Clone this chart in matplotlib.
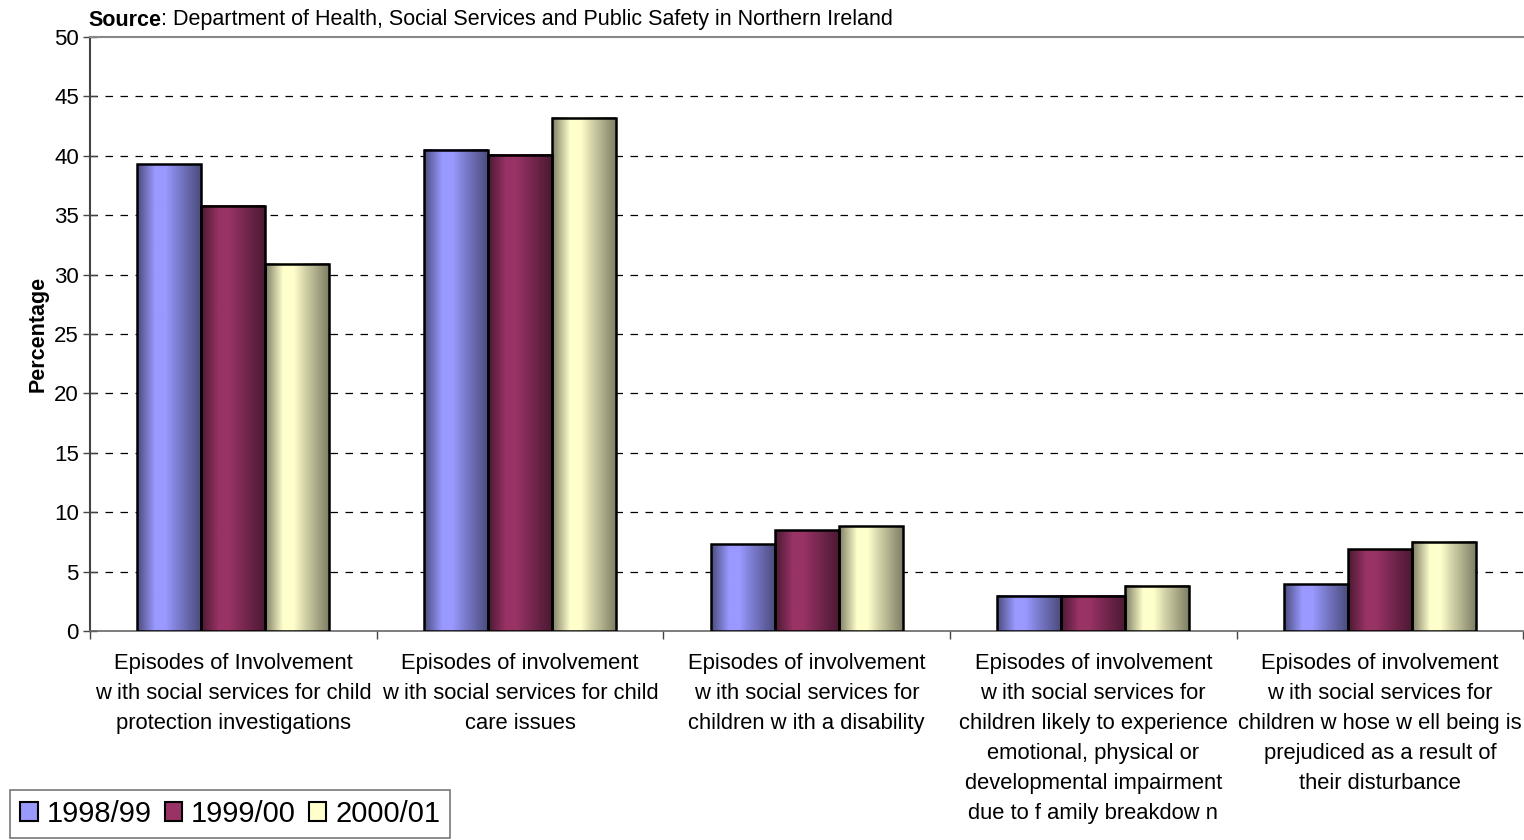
import numpy as np
import matplotlib
matplotlib.use("Agg")
import matplotlib.pyplot as plt
from matplotlib.colors import to_rgb
from matplotlib.patches import Patch

categories = [
    "Episodes of Involvement\nw ith social services for child\nprotection investigations",
    "Episodes of involvement\nw ith social services for child\ncare issues",
    "Episodes of involvement\nw ith social services for\nchildren w ith a disability",
    "Episodes of involvement\nw ith social services for\nchildren likely to experience\nemotional, physical or\ndevelopmental impairment\ndue to f amily breakdow n",
    "Episodes of involvement\nw ith social services for\nchildren w hose w ell being is\nprejudiced as a result of\ntheir disturbance",
]
series_names = ["1998/99", "1999/00", "2000/01"]
v1998 = [39.3, 40.5, 7.3, 2.95, 3.95]
v1999 = [35.8, 40.1, 8.5, 2.95, 6.9]
v2000 = [30.9, 43.2, 8.8, 3.8, 7.5]
series_values = [v1998, v1999, v2000]
colors = ["#9999FF", "#993366", "#FFFFCC"]
yticks = [0, 5, 10, 15, 20, 25, 30, 35, 40, 45, 50]

plt.rcParams['font.family'] = ['Liberation Sans', 'DejaVu Sans']

fig = plt.figure(figsize=(15.24, 8.4), dpi=100)
ax = fig.add_axes([90/1524, 1-631/840, 1-90/1524-0.0005, (631-37)/840])

n = len(categories)
x = np.arange(n)
bw = 0.223

def gradient_img(color):
    c = np.array(to_rgb(color))
    t = np.linspace(0, 1, 64)
    prof = np.interp(t, [0, 0.28, 0.45, 0.6, 1.0], [0.5, 1.0, 1.0, 0.85, 0.5])
    img = (c[None, :] * prof[:, None])[None, :, :]
    return np.clip(img, 0, 1)

for i, (vals, col) in enumerate(zip(series_values, colors)):
    bars = ax.bar(x + (i - 1) * bw, vals, width=bw, facecolor='none',
                  edgecolor='black', linewidth=1.8, zorder=4)
    img = gradient_img(col)
    for r in bars:
        x0, w, h = r.get_x(), r.get_width(), r.get_height()
        ax.imshow(img, extent=[x0, x0 + w, 0, h], aspect='auto',
                  interpolation='bilinear', zorder=3)

ax.set_xlim(-0.5, n - 0.5)
ax.set_ylim(0, 50)
ax.set_yticks(yticks)
ax.set_yticklabels([str(v) for v in yticks], fontsize=16)
ax.tick_params(axis='y', direction='inout', length=10, width=1, color='#444444', pad=3)

ax.set_xticks(np.arange(n + 1) - 0.5, minor=False)
ax.set_xticklabels([''] * (n + 1))
ax.tick_params(axis='x', direction='out', length=6, width=1, color='#444444')
ax.set_xticks(x, minor=True)
ax.set_xticklabels(categories, minor=True, fontsize=15.8, linespacing=1.56)
ax.tick_params(axis='x', which='minor', length=0, pad=16)

for y in yticks[1:-1]:
    ax.axhline(y, color='black', linestyle=(0, (6, 6)), linewidth=0.9, zorder=1)

ax.spines['right'].set_visible(False)
ax.spines['top'].set_color('#888888')
ax.spines['top'].set_linewidth(1.5)
ax.spines['left'].set_color('#444444')
ax.spines['left'].set_linewidth(1.5)
ax.spines['bottom'].set_color('#666666')
ax.spines['bottom'].set_linewidth(1.2)

ax.set_ylabel("Percentage", fontsize=15.5, fontweight='bold', labelpad=4)

t1 = fig.text(88/1524, 1-20/840, "Source", fontsize=15.5, fontweight='bold', va='center')
fig.canvas.draw()
bb = t1.get_window_extent()
fig.text(bb.x1/1524, 1-20/840, ": Department of Health, Social Services and Public Safety in Northern Ireland",
         fontsize=15.5, va='center')

handles = [Patch(facecolor=c, edgecolor='black', linewidth=1.5) for c in colors]
leg = fig.legend(handles, series_names, loc='lower left', bbox_to_anchor=(10/1524, 2/840),
                 ncol=3, fontsize=21, frameon=True, fancybox=False, edgecolor='#555555',
                 handlelength=0.6, handleheight=0.6, handletextpad=0.3, columnspacing=0.45,
                 borderpad=0.35, borderaxespad=0)
leg.get_frame().set_linewidth(1.2)

fig.savefig("out.png", dpi=100)
